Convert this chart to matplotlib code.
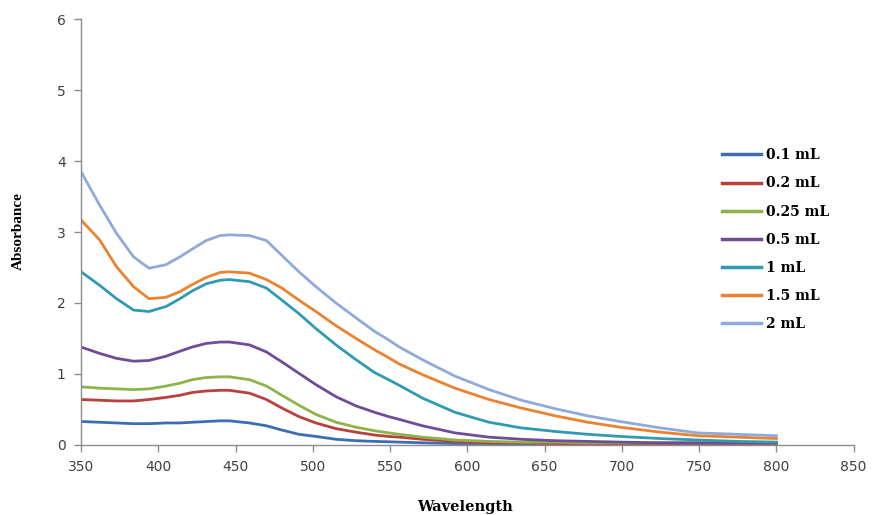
import numpy as np
import matplotlib.pyplot as plt

# ---------------------------
# data
# ---------------------------

labels = ['0.1 mL', '0.2 mL', '0.25 mL', '0.5 mL', '1 mL', '1.5 mL', '2 mL']
colors = ['#3C6DB0', '#B8403D', '#8DB34A', '#6F4C98', '#2F9BB3', '#EB8230', '#8FAAD9']

wl = [350, 362, 373, 384, 394, 405, 414, 422, 431, 440, 446, 459, 470, 480, 491, 502,
      515, 528, 540, 549, 556, 571, 592, 614, 635, 657, 678, 699, 725, 749, 775, 800]

abs_01 = [0.33, 0.32, 0.31, 0.30, 0.30, 0.31, 0.31, 0.32, 0.33, 0.34, 0.34, 0.31, 0.27, 0.21, 0.15, 0.12,
          0.08, 0.06, 0.05, 0.045, 0.04, 0.03, 0.02, 0.02, 0.02, 0.02, 0.02, 0.02, 0.02, 0.02, 0.02, 0.02]
abs_02 = [0.64, 0.63, 0.62, 0.62, 0.64, 0.67, 0.70, 0.74, 0.76, 0.77, 0.77, 0.73, 0.64, 0.52, 0.40, 0.31,
          0.23, 0.18, 0.14, 0.12, 0.11, 0.08, 0.05, 0.03, 0.03, 0.02, 0.02, 0.02, 0.02, 0.02, 0.02, 0.02]
abs_025 = [0.82, 0.80, 0.79, 0.78, 0.79, 0.83, 0.87, 0.92, 0.95, 0.96, 0.96, 0.92, 0.83, 0.70, 0.56, 0.43,
           0.32, 0.25, 0.20, 0.17, 0.15, 0.11, 0.07, 0.05, 0.04, 0.04, 0.03, 0.03, 0.03, 0.03, 0.03, 0.03]
abs_05 = [1.38, 1.29, 1.22, 1.18, 1.19, 1.25, 1.32, 1.38, 1.43, 1.45, 1.45, 1.41, 1.31, 1.17, 1.01, 0.85,
          0.68, 0.55, 0.46, 0.40, 0.36, 0.27, 0.17, 0.11, 0.08, 0.06, 0.05, 0.04, 0.03, 0.03, 0.03, 0.03]
abs_1 = [2.44, 2.25, 2.06, 1.90, 1.88, 1.95, 2.06, 2.17, 2.27, 2.32, 2.33, 2.30, 2.21, 2.04, 1.85, 1.64,
         1.41, 1.20, 1.02, 0.92, 0.84, 0.66, 0.46, 0.32, 0.24, 0.19, 0.15, 0.12, 0.09, 0.07, 0.05, 0.04]
abs_15 = [3.17, 2.89, 2.51, 2.23, 2.06, 2.08, 2.16, 2.26, 2.36, 2.43, 2.44, 2.42, 2.33, 2.21, 2.04, 1.88,
          1.68, 1.50, 1.34, 1.23, 1.14, 0.99, 0.80, 0.64, 0.52, 0.41, 0.32, 0.25, 0.18, 0.13, 0.11, 0.09]
abs_2 = [3.85, 3.38, 2.98, 2.65, 2.49, 2.54, 2.65, 2.76, 2.88, 2.95, 2.96, 2.95, 2.88, 2.67, 2.44, 2.23,
         2.00, 1.79, 1.60, 1.48, 1.38, 1.20, 0.97, 0.78, 0.63, 0.51, 0.41, 0.33, 0.24, 0.17, 0.15, 0.13]

series = [abs_01, abs_02, abs_025, abs_05, abs_1, abs_15, abs_2]

# ---------------------------
# plot
# ---------------------------

fig = plt.figure(figsize=(8.74, 5.15), dpi=100)
ax = fig.add_axes([0.0927, 0.136, 0.884, 0.827])

for vals, lab, col in zip(series, labels, colors):
    ax.plot(wl, vals, color=col, lw=2.0, label=lab, solid_joinstyle='round')

ax.set_xlim(350, 850)
ax.set_ylim(0, 6)
ax.set_xticks(np.arange(350, 851, 50))
ax.set_yticks(np.arange(0, 7, 1))

for s in ['top', 'right']:
    ax.spines[s].set_visible(False)
for s in ['left', 'bottom']:
    ax.spines[s].set_color('#8C8C8C')
    ax.spines[s].set_linewidth(1.0)

ax.tick_params(direction='out', length=5, width=1, color='#8C8C8C',
               labelsize=10, labelcolor='#404040', pad=6)

# axis titles
fig.text(465 / 874, 1 - 507 / 515, 'Wavelength', ha='center', va='center',
         fontfamily='DejaVu Serif', fontweight='bold', fontsize=10.5)
fig.text(18 / 874, 1 - 231 / 515, 'Absorbance', ha='center', va='center', rotation=90,
         fontfamily='Liberation Serif', fontweight='bold', fontsize=11)

leg = ax.legend(loc='upper left', bbox_to_anchor=(0.826, 0.712),
                bbox_transform=fig.transFigure, frameon=False, borderaxespad=0,
                handlelength=2.8, handletextpad=0.4, labelspacing=1.02,
                borderpad=0, prop={'family': 'DejaVu Serif', 'weight': 'bold', 'size': 10})
for line in leg.get_lines():
    line.set_linewidth(2.5)

fig.savefig('out.png', dpi=100)
